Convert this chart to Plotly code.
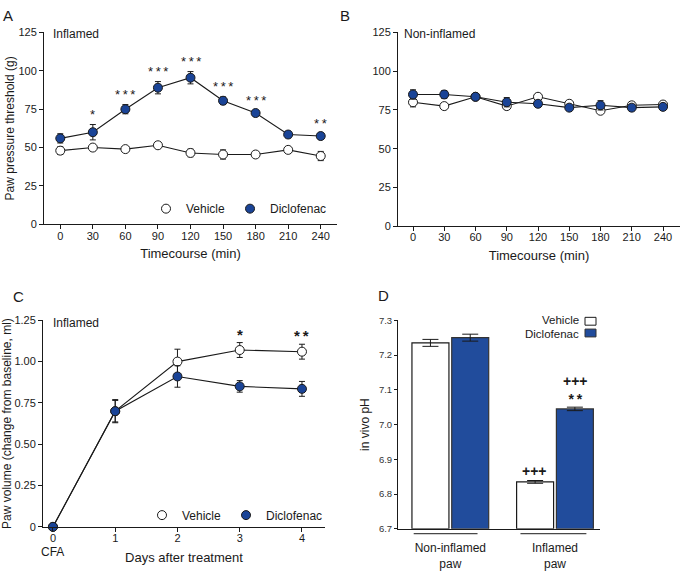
import plotly.graph_objects as go

# ---------------- DATA ----------------
time_min = [0, 30, 60, 90, 120, 150, 180, 210, 240]

a_vehicle = [48, 50, 49, 51.5, 46.5, 45.5, 45.5, 48.5, 44.5]
a_vehicle_err = [2.5, 1, 1, 1, 2.5, 3, 1, 1, 3]
a_diclo = [56, 60, 75, 89, 95.5, 80.5, 72.5, 58.5, 57.5]
a_diclo_err = [3, 5, 3, 4, 4, 2.5, 1.5, 2, 1.5]
a_stars = ["", "*", "***", "***", "***", "***", "***", "", "**"]

b_vehicle = [80, 77.5, 83.5, 77.5, 83.5, 79, 74.5, 78, 78.5]
b_vehicle_err = [3, 1, 1.5, 2, 2, 1, 1, 2, 2]
b_diclo = [85, 85, 83.5, 80, 79, 76.5, 78, 76.5, 77]
b_diclo_err = [3, 2.5, 2, 3, 2, 1.5, 3, 2, 1.5]

days = [0, 1, 2, 3, 4]
c_vehicle = [0, 0.70, 1.00, 1.07, 1.06]
c_vehicle_err = [0, 0.07, 0.075, 0.045, 0.045]
c_diclo = [0, 0.70, 0.91, 0.85, 0.835]
c_diclo_err = [0, 0.065, 0.065, 0.035, 0.045]
c_stars = ["", "", "", "*", "**"]

d_groups = ["Non-inflamed<br>paw", "Inflamed<br>paw"]
d_vehicle = [7.235, 6.835]
d_vehicle_err = [0.010, 0.004]
d_diclo = [7.250, 7.045]
d_diclo_err = [0.010, 0.005]
d_vehicle_marks = ["", "+++"]
d_diclo_marks = ["", "+++<br>**"]

# ---------------- STYLE ----------------
W, H = 685, 573
FONT = "Liberation Sans, Arial, sans-serif"
BLUE = "#1a4497"
BAR_BLUE = "#214c9c"
INK = "#1a1a1a"
THIN = "\u2009"


def px(x):
    return x / W


def py(y):
    return 1 - y / H


fig = go.Figure()


def add_series(xs, ys, errs, xa, ya, fill, name, legend, showlegend, cap=3):
    fig.add_trace(go.Scatter(
        x=xs, y=ys, mode="lines", xaxis=xa, yaxis=ya,
        line=dict(color=INK, width=1.1), showlegend=False, hoverinfo="skip",
        cliponaxis=False))
    fig.add_trace(go.Scatter(
        x=xs, y=ys, mode="markers", xaxis=xa, yaxis=ya, name=name,
        legend=legend, showlegend=showlegend, cliponaxis=False,
        marker=dict(size=9, color=fill, line=dict(color=INK, width=1)),
        error_y=dict(type="data", array=errs, visible=True, color=INK,
                     thickness=1, width=cap)))


# Panel A
add_series(time_min, a_vehicle, a_vehicle_err, "x", "y", "white", "Vehicle", "legend", True)
add_series(time_min, a_diclo, a_diclo_err, "x", "y", BLUE, "Diclofenac", "legend", True)
# Panel B
add_series(time_min, b_vehicle, b_vehicle_err, "x2", "y2", "white", "Vehicle", "legend", False)
add_series(time_min, b_diclo, b_diclo_err, "x2", "y2", BLUE, "Diclofenac", "legend", False)
# Panel C
add_series(days, c_vehicle, c_vehicle_err, "x3", "y3", "white", "Vehicle", "legend2", True)
add_series(days, c_diclo, c_diclo_err, "x3", "y3", BLUE, "Diclofenac", "legend2", True)

# Panel D bars
fig.add_trace(go.Bar(
    x=d_groups, y=[v - 6.7 for v in d_vehicle], base=6.7, xaxis="x4", yaxis="y4",
    name="Vehicle", showlegend=False, marker=dict(color="white", line=dict(color=INK, width=1.2)),
    error_y=dict(type="data", array=d_vehicle_err, color=INK, thickness=1, width=8),
    cliponaxis=False))
fig.add_trace(go.Bar(
    x=d_groups, y=[v - 6.7 for v in d_diclo], base=6.7, xaxis="x4", yaxis="y4",
    name="Diclofenac", showlegend=False, marker=dict(color=BAR_BLUE, line=dict(color="#333333", width=1.2)),
    error_y=dict(type="data", array=d_diclo_err, color=INK, thickness=1, width=8),
    cliponaxis=False))

annotations = []
# significance stars A
for x, y, e, s in zip(time_min, a_diclo, a_diclo_err, a_stars):
    if s:
        annotations.append(dict(x=x, y=y + e, xref="x", yref="y", text=THIN.join(s), showarrow=False,
                                yanchor="bottom", yshift=1, font=dict(size=13, family=FONT, color=INK)))
# stars C (above vehicle)
for x, y, e, s in zip(days, c_vehicle, c_vehicle_err, c_stars):
    if s:
        annotations.append(dict(x=x, y=y + e, xref="x3", yref="y3", text="<b>" + THIN.join(s) + "</b>",
                                showarrow=False, yanchor="bottom", yshift=-2,
                                font=dict(size=15, family=FONT, color=INK)))
# D marks
for i, (v, e, s) in enumerate(zip(d_vehicle, d_vehicle_err, d_vehicle_marks)):
    if s:
        annotations.append(dict(x=i - 0.2, y=v + e, xref="x4", yref="y4", text="<b>" + s + "</b>",
                                showarrow=False, yanchor="bottom", yshift=0,
                                font=dict(size=14, family=FONT, color=INK)))
for i, (v, e, s) in enumerate(zip(d_diclo, d_diclo_err, d_diclo_marks)):
    if s:
        annotations.append(dict(x=i + 0.2, y=v + e, xref="x4", yref="y4",
                                text="<b>" + s.replace("**", "*" + THIN + "*") + "</b>",
                                showarrow=False, yanchor="bottom", yshift=-2,
                                font=dict(size=14, family=FONT, color=INK)))

# panel letters and subtitles
for txt, x, y in [("A", 8, 10), ("B", 345, 10), ("C", 18, 297), ("D", 383, 296)]:
    annotations.append(dict(x=px(x), y=py(y), xref="paper", yref="paper", text=txt, showarrow=False,
                            xanchor="center", yanchor="middle", font=dict(size=15, family=FONT, color=INK)))
for txt, x, y in [("Inflamed", 51, 29), ("Non-inflamed", 402, 29), ("Inflamed", 51, 324)]:
    annotations.append(dict(x=px(x), y=py(y), xref="paper", yref="paper", text=txt, showarrow=False,
                            xanchor="left", yanchor="middle", font=dict(size=12, family=FONT, color=INK)))
annotations.append(dict(x=0, y=py(558), xref="x3", yref="paper", text="CFA", showarrow=False,
                        xanchor="center", yanchor="middle", font=dict(size=12, family=FONT, color=INK)))
# D legend
for txt, y in [("Vehicle", 320.5), ("Diclofenac", 335)]:
    annotations.append(dict(x=px(581), y=py(y), xref="paper", yref="paper", text=txt,
                            showarrow=False, xanchor="right", yanchor="middle",
                            font=dict(size=11.5, family=FONT, color=INK)))

shapes = [
    dict(type="rect", xref="paper", yref="paper", x0=px(585), x1=px(596), y0=py(318), y1=py(326),
         fillcolor="white", line=dict(color=INK, width=1)),
    dict(type="rect", xref="paper", yref="paper", x0=px(585), x1=px(596), y0=py(330), y1=py(338),
         fillcolor=BAR_BLUE, line=dict(color="#333333", width=1)),
    dict(type="line", xref="x4", yref="paper", x0=-0.35, x1=0.26, y0=py(539), y1=py(539),
         line=dict(color=INK, width=1)),
    dict(type="line", xref="x4", yref="paper", x0=0.67, x1=1.3, y0=py(539), y1=py(539),
         line=dict(color=INK, width=1)),
]

axis_common = dict(showline=True, linecolor=INK, linewidth=1, ticks="outside", ticklen=4,
                   tickcolor=INK, showgrid=False, zeroline=False,
                   tickfont=dict(size=11, family=FONT, color=INK))

fig.update_layout(
    width=W, height=H, margin=dict(l=0, r=0, t=0, b=0),
    paper_bgcolor="white", plot_bgcolor="white",
    font=dict(family=FONT, color=INK),
    barmode="group", bargap=0.24, bargroupgap=0.07,
    xaxis=dict(domain=[px(44), px(337)], range=[-15, 255], anchor="y", tickvals=time_min,
               ticklabelstandoff=-3,
               title=dict(text="Timecourse (min)", font=dict(size=13, family=FONT), standoff=8),
               **axis_common),
    yaxis=dict(domain=[py(223), py(27)], range=[0, 125], anchor="x", tickvals=[0, 25, 50, 75, 100, 125],
               title=dict(text="Paw pressure threshold (g)", font=dict(size=12, family=FONT), standoff=1),
               **axis_common),
    xaxis2=dict(domain=[px(398), px(680)], range=[-14.4, 256.3], anchor="y2", tickvals=time_min,
                ticklabelstandoff=-3,
                title=dict(text="Timecourse (min)", font=dict(size=13, family=FONT), standoff=8),
                **axis_common),
    yaxis2=dict(domain=[py(225), py(27)], range=[0, 125], anchor="x2", tickvals=[0, 25, 50, 75, 100, 125],
                **axis_common),
    xaxis3=dict(domain=[px(43), px(325)], range=[-0.16, 4.37], anchor="y3", tickvals=days,
                ticklabelstandoff=-3,
                title=dict(text="Days after treatment", font=dict(size=13, family=FONT), standoff=9),
                **axis_common),
    yaxis3=dict(domain=[py(532), py(321)], range=[0, 1.25], anchor="x3",
                tickvals=[0, 0.25, 0.5, 0.75, 1.0, 1.25],
                ticktext=["0", "0.25", "0.50", "0.75", "1.00", "1.25"],
                title=dict(text="Paw volume (change from baseline, ml)", font=dict(size=12, family=FONT), standoff=1),
                **axis_common),
    xaxis4=dict(domain=[px(398), px(600)], range=[-0.5, 1.43], anchor="y4", type="category",
                showline=True, linecolor=INK, linewidth=1, ticks="", showgrid=False, zeroline=False,
                tickfont=dict(size=12, family=FONT, color=INK), ticklabelstandoff=8),
    yaxis4=dict(domain=[py(534), py(321)], range=[6.7, 7.3], anchor="x4",
                tickvals=[6.7, 6.8, 6.9, 7.0, 7.1, 7.2, 7.3],
                ticktext=["6.7", "6.8", "6.9", "7.0", "7.1", "7.2", "7.3"],
                title=dict(text="in vivo pH", font=dict(size=12, family=FONT), standoff=6),
                showline=True, linecolor=INK, linewidth=1, ticks="outside", ticklen=3, tickcolor=INK,
                showgrid=False, zeroline=False, tickfont=dict(size=9.5, family=FONT, color="#333333")),
    legend=dict(orientation="h", x=px(332), y=py(207), xanchor="right", yanchor="middle",
                bgcolor="rgba(0,0,0,0)", font=dict(size=12, family=FONT, color=INK),
                itemwidth=30, tracegroupgap=0),
    legend2=dict(orientation="h", x=px(328), y=py(520), xanchor="right", yanchor="middle",
                 bgcolor="rgba(0,0,0,0)", font=dict(size=12, family=FONT, color=INK),
                 itemwidth=30, tracegroupgap=0),
    annotations=annotations, shapes=shapes,
)

fig.write_html("out.html", config={"displayModeBar": False},
               post_script="document.body.style.margin='0px';")
